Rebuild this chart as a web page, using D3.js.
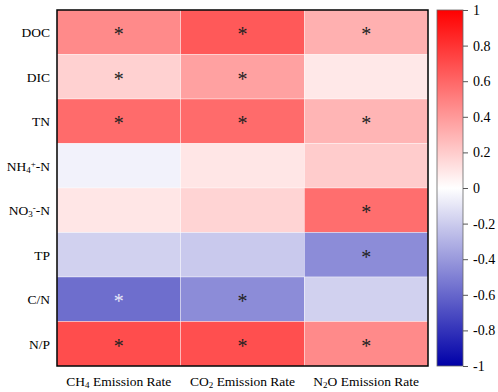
<!DOCTYPE html>
<meta charset="utf-8">
<title>Correlation heatmap</title>
<style>
body {
  margin: 0;
  background: #fff;
}
text {
  font-family: "Liberation Serif", "Times New Roman", serif;
  fill: #000;
}
</style>
<body>
<script src="https://cdn.jsdelivr.net/npm/d3@7"></script>
<script>
var w = 498,
    h = 392,
    x0 = 57,
    y0 = 10,
    x1 = 428,
    y1 = 366;

// variables (rows) and emission rates (columns)
var rows = ["DOC", "DIC", "TN", "NH4", "NO3", "TP", "C/N", "N/P"];
var cols = ["CH4", "CO2", "N2O"];

// correlation coefficients, one array per column
var ch4 = [0.46, 0.18, 0.58, -0.05, 0.10, -0.18, -0.57, 0.70];
var co2 = [0.65, 0.37, 0.58, 0.10, 0.17, -0.21, -0.45, 0.69];
var n2o = [0.31, 0.09, 0.29, 0.20, 0.57, -0.45, -0.18, 0.46];

// significance marks
var sigCh4 = [1, 1, 1, 0, 0, 0, 1, 1];
var sigCo2 = [1, 1, 1, 0, 0, 0, 1, 1];
var sigN2o = [1, 0, 1, 0, 1, 1, 0, 1];

var colorTicks = [1, 0.8, 0.6, 0.4, 0.2, 0, -0.2, -0.4, -0.6, -0.8, -1];

var values = [ch4, co2, n2o],
    sigs = [sigCh4, sigCo2, sigN2o];

var cells = [];
cols.forEach(function(c, j) {
  rows.forEach(function(r, i) {
    cells.push({row: r, col: c, v: values[j][i], sig: sigs[j][i]});
  });
});

var svg = d3.select("body").append("svg")
    .attr("width", w)
    .attr("height", h);

var x = d3.scaleBand().domain(cols).range([x0, x1]);
var y = d3.scaleBand().domain(rows).range([y0, y1]);
var color = d3.scaleLinear()
    .domain([-1, 0, 1])
    .range(["#0000a8", "#ffffff", "#ff0000"]);

svg.selectAll("rect.cell")
    .data(cells)
  .enter().append("rect")
    .attr("class", "cell")
    .attr("x", function(d) { return x(d.col); })
    .attr("y", function(d) { return y(d.row); })
    .attr("width", x.bandwidth())
    .attr("height", y.bandwidth())
    .style("fill", function(d) { return color(d.v); })
    .style("stroke", "#fff")
    .style("stroke-opacity", 0.6)
    .style("stroke-width", 0.6);

svg.selectAll("text.star")
    .data(cells.filter(function(d) { return d.sig; }))
  .enter().append("text")
    .attr("class", "star")
    .attr("x", function(d) { return x(d.col) + x.bandwidth() / 2; })
    .attr("y", function(d) { return y(d.row) + y.bandwidth() / 2 + 9; })
    .attr("text-anchor", "middle")
    .style("font-size", "20px")
    .style("fill", function(d) { return d.v < -0.5 ? "#e8e8f8" : "#222"; })
    .text("*");

svg.append("rect")
    .attr("x", x0)
    .attr("y", y0)
    .attr("width", x1 - x0)
    .attr("height", y1 - y0)
    .style("fill", "none")
    .style("stroke", "#000")
    .style("stroke-width", 1.5);

// row labels
var rowLabel = svg.selectAll("text.row")
    .data(rows)
  .enter().append("text")
    .attr("class", "row")
    .attr("x", 50)
    .attr("y", function(d) { return y(d) + y.bandwidth() / 2 + 5; })
    .attr("text-anchor", "end")
    .style("font-size", "13.5px");

function label(sel, parts) {
  parts.forEach(function(p) {
    var t = sel.append("tspan").text(p[0]);
    if (p[1] === "sub") t.attr("baseline-shift", "-25%").style("font-size", "9px");
    if (p[1] === "sup") t.attr("baseline-shift", "50%").style("font-size", "9px");
  });
}

var rowParts = {
  "NH4": [["NH"], ["4", "sub"], ["+", "sup"], ["-N"]],
  "NO3": [["NO"], ["3", "sub"], ["-", "sup"], ["-N"]]
};
rowLabel.each(function(d) {
  label(d3.select(this), rowParts[d] || [[d]]);
});

// column labels
var colParts = {
  "CH4": [["CH"], ["4", "sub"], [" Emission Rate"]],
  "CO2": [["CO"], ["2", "sub"], [" Emission Rate"]],
  "N2O": [["N"], ["2", "sub"], ["O Emission Rate"]]
};
svg.selectAll("text.col")
    .data(cols)
  .enter().append("text")
    .attr("class", "col")
    .attr("x", function(d) { return x(d) + x.bandwidth() / 2; })
    .attr("y", 386)
    .attr("text-anchor", "middle")
    .style("font-size", "13.5px")
    .each(function(d) { label(d3.select(this), colParts[d]); });

// colour bar
var cbX = 437,
    cbW = 26;
var cy = d3.scaleLinear().domain([-1, 1]).range([y1, y0]);

var grad = svg.append("defs").append("linearGradient")
    .attr("id", "cb")
    .attr("x1", 0).attr("y1", 1)
    .attr("x2", 0).attr("y2", 0);
grad.selectAll("stop")
    .data(d3.range(-1, 1.001, 0.25))
  .enter().append("stop")
    .attr("offset", function(d) { return (d + 1) / 2; })
    .attr("stop-color", function(d) { return color(d); });

svg.append("rect")
    .attr("x", cbX)
    .attr("y", y0)
    .attr("width", cbW)
    .attr("height", y1 - y0)
    .style("fill", "url(#cb)")
    .style("stroke", "#666")
    .style("stroke-width", 0.8);

var cbAxis = d3.axisRight(cy)
    .tickValues(colorTicks)
    .tickSize(5)
    .tickPadding(5)
    .tickFormat(function(d) { return d3.format("")(d).replace("−", "-"); });

var ag = svg.append("g")
    .attr("transform", "translate(" + (cbX + cbW) + ",0)")
    .call(cbAxis);
ag.select(".domain").remove();
ag.selectAll(".tick line").style("stroke", "#555");
ag.selectAll(".tick text")
    .style("font-family", "Liberation Serif, serif")
    .style("font-size", "14px")
    .style("fill", "#000");
</script>
